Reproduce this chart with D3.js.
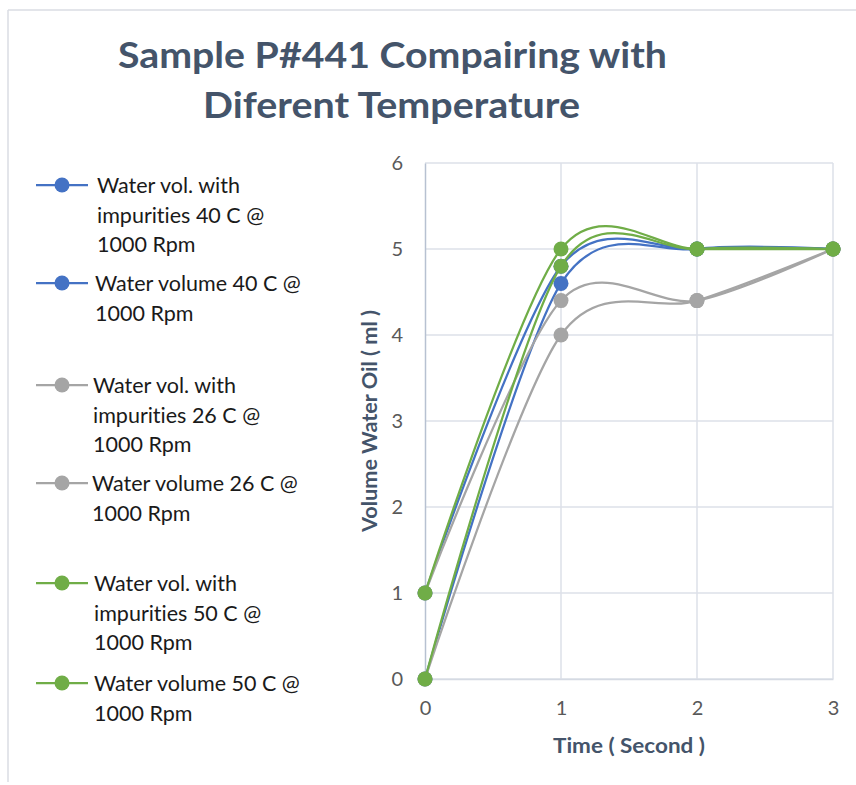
<!DOCTYPE html>
<html>
<head>
<meta charset="utf-8">
<script src="https://cdn.jsdelivr.net/npm/d3@7/dist/d3.min.js"></script>
<style>
  html, body { margin: 0; padding: 0; background: #fff; }
  svg { display: block; }
  text { font-variant-ligatures: none; font-feature-settings: "liga" 0; }
</style>
</head>
<body>
<svg id="chart" width="856" height="785"></svg>
<script>
// ---- data ----
const times = [0, 1, 2, 3];
const seriesNames = [
  "Water vol. with impurities 40 C @ 1000 Rpm",
  "Water volume 40 C @ 1000 Rpm",
  "Water vol. with impurities 26 C @ 1000 Rpm",
  "Water volume 26 C @ 1000 Rpm",
  "Water vol. with impurities 50 C @ 1000 Rpm",
  "Water volume 50 C @ 1000 Rpm"
];
const imp40 = [1, 4.8, 5, 5];
const vol40 = [0, 4.6, 5, 5];
const imp26 = [1, 4.4, 4.4, 5];
const vol26 = [0, 4.0, 4.4, 5];
const imp50 = [1, 5.0, 5, 5];
const vol50 = [0, 4.8, 5, 5];
const seriesValues = [imp40, vol40, imp26, vol26, imp50, vol50];
const seriesColors = ["#4472C4", "#4472C4", "#A5A5A5", "#A5A5A5", "#70AD47", "#70AD47"];
const legendLines = [
  ["Water vol. with", "impurities 40 C @", "1000 Rpm"],
  ["Water volume 40 C @", "1000 Rpm"],
  ["Water vol. with", "impurities 26 C @", "1000 Rpm"],
  ["Water volume 26 C @", "1000 Rpm"],
  ["Water vol. with", "impurities 50 C @", "1000 Rpm"],
  ["Water volume 50 C @", "1000 Rpm"]
];
const xTicks = [0, 1, 2, 3];
const yTicks = [0, 1, 2, 3, 4, 5, 6];
const titleLines = ["Sample P#441 Compairing with", "Diferent Temperature"];
const xTitle = "Time ( Second )";
const yTitle = "Volume Water Oil ( ml )";

// ---- layout ----
const svg = d3.select("#chart");
const font = "Lato, Carlito, 'Open Sans', sans-serif";

// outer frame (top and left edges visible)
svg.append("line").attr("x1", 8).attr("x2", 856).attr("y1", 10).attr("y2", 10)
  .attr("stroke", "#dadde3").attr("stroke-width", 1.5);
svg.append("line").attr("x1", 8).attr("x2", 8).attr("y1", 10).attr("y2", 782)
  .attr("stroke", "#dadde3").attr("stroke-width", 1.5);

const x = d3.scaleLinear().domain([0, 3]).range([425, 833]);
const y = d3.scaleLinear().domain([0, 6]).range([679, 163]);

// gridlines
const grid = svg.append("g");
grid.selectAll("line.h").data(yTicks).join("line")
  .attr("x1", x(0)).attr("x2", x(3))
  .attr("y1", d => y(d)).attr("y2", d => y(d))
  .attr("stroke", "#dde1e8").attr("stroke-width", 1.5);
grid.selectAll("line.v").data(xTicks.filter(d => d > 0)).join("line")
  .attr("x1", d => x(d)).attr("x2", d => x(d))
  .attr("y1", y(6)).attr("y2", y(0))
  .attr("stroke", "#dde1e8").attr("stroke-width", 1.5);

// axes
const xAxis = svg.append("g").attr("transform", `translate(0,${y(0)})`)
  .call(d3.axisBottom(x).tickValues(xTicks).tickFormat(d3.format("d")).tickSize(0).tickPadding(22));
xAxis.select(".domain").attr("stroke", "#d5dae3").attr("stroke-width", 1.5);
xAxis.selectAll("text").attr("font-family", font).attr("font-size", 20).attr("fill", "#595959");

const yAxis = svg.append("g").attr("transform", `translate(${x(0)},0)`)
  .call(d3.axisLeft(y).tickValues(yTicks).tickFormat(d3.format("d")).tickSize(0).tickPadding(22));
yAxis.select(".domain").attr("stroke", "#b7c1d1").attr("stroke-width", 1.5);
yAxis.selectAll("text").attr("font-family", font).attr("font-size", 20).attr("fill", "#595959");

// title
svg.append("g").selectAll("text").data(titleLines).join("text")
  .attr("x", (d, i) => i === 0 ? 118 : 203)
  .attr("y", (d, i) => i === 0 ? 68 : 118)
  .attr("textLength", (d, i) => i === 0 ? 549 : 377)
  .attr("lengthAdjust", "spacingAndGlyphs")
  .attr("font-family", font).attr("font-weight", "bold").attr("font-size", 37)
  .attr("fill", "#44546A").text(d => d);

// axis titles
svg.append("text").attr("x", 553).attr("y", 753)
  .attr("textLength", 152).attr("lengthAdjust", "spacingAndGlyphs")
  .attr("font-family", font).attr("font-weight", "bold").attr("font-size", 20)
  .attr("fill", "#44546A").text(xTitle);
svg.append("text").attr("transform", "translate(377,421) rotate(-90)")
  .attr("text-anchor", "middle")
  .attr("textLength", 222).attr("lengthAdjust", "spacingAndGlyphs")
  .attr("font-family", font).attr("font-weight", "bold").attr("font-size", 20)
  .attr("fill", "#44546A").text(yTitle);

// series
const line = d3.line().x((d, i) => x(times[i])).y(d => y(d)).curve(d3.curveCardinal.tension(0.1));
const sg = svg.append("g");
seriesValues.forEach((vals, si) => {
  const g = sg.append("g");
  g.append("path").attr("d", line(vals)).attr("fill", "none")
    .attr("stroke", seriesColors[si]).attr("stroke-width", 2.25).attr("stroke-linecap", "round");
  g.selectAll("circle").data(vals).join("circle")
    .attr("cx", (d, i) => x(times[i])).attr("cy", d => y(d)).attr("r", 7.5)
    .attr("fill", seriesColors[si]);
});

// legend
const legendY = [185, 283, 385, 483, 583, 683];
const legendTextX = [97, 95, 93, 92, 94, 94];
const lg = svg.append("g");
legendLines.forEach((lines, i) => {
  const g = lg.append("g");
  g.append("line").attr("x1", 36).attr("x2", 88).attr("y1", legendY[i]).attr("y2", legendY[i])
    .attr("stroke", seriesColors[i]).attr("stroke-width", 2.25);
  g.append("circle").attr("cx", 62).attr("cy", legendY[i]).attr("r", 7.5).attr("fill", seriesColors[i]);
  g.selectAll("text").data(lines).join("text")
    .attr("x", legendTextX[i]).attr("y", (d, j) => legendY[i] + 8 + j * 29.5)
    .attr("font-family", font).attr("font-size", 21.5).attr("fill", "#1a1a1a")
    .text(d => d);
});
</script>
</body>
</html>
